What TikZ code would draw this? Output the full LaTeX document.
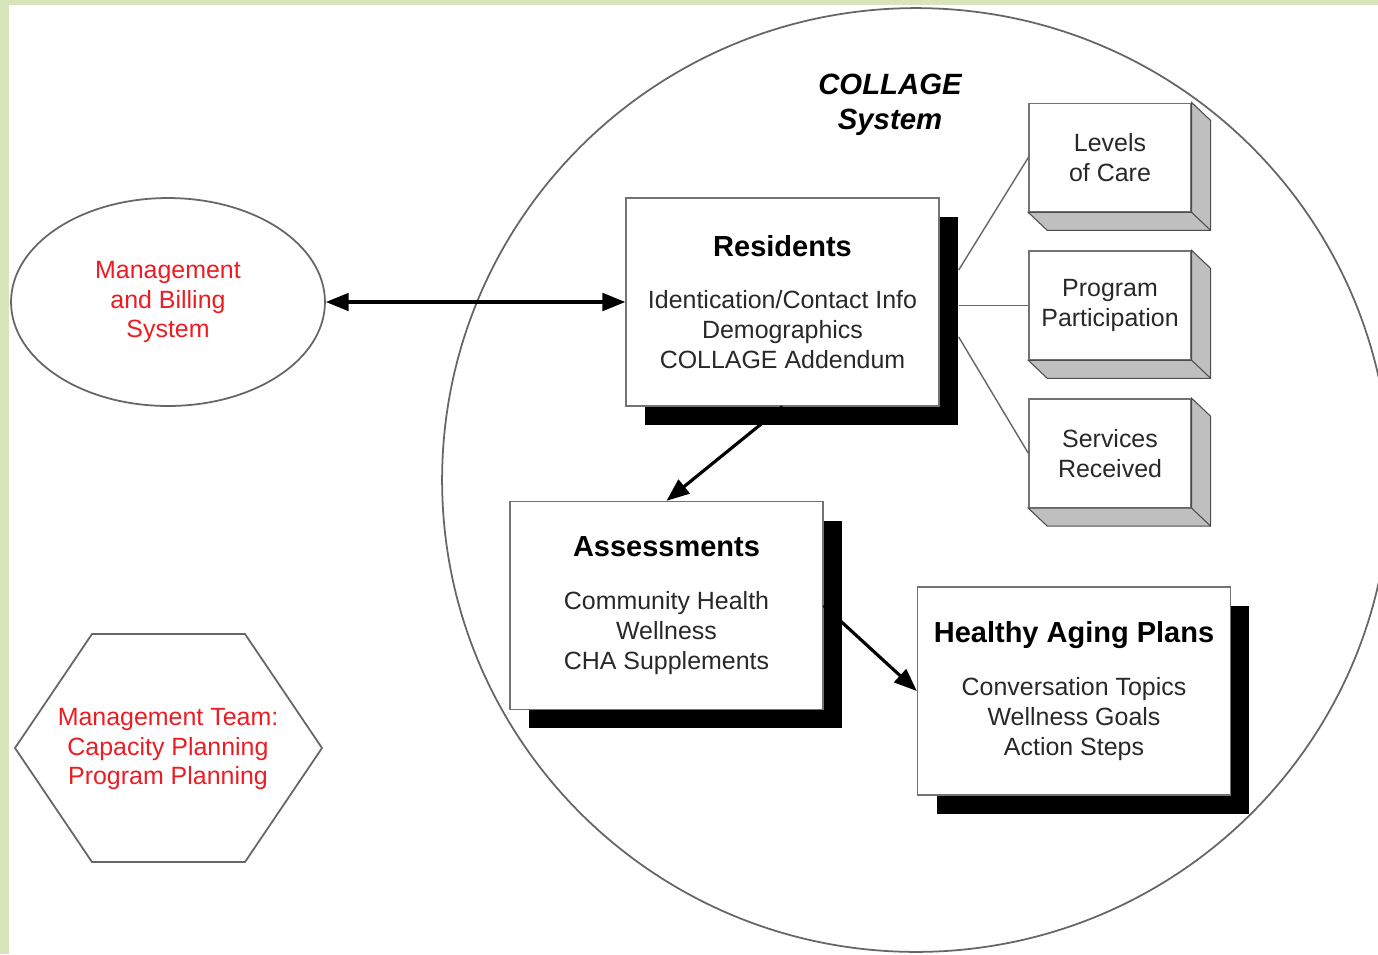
\documentclass[tikz,border=0pt]{standalone}
\usepackage{fontspec}
\setmainfont{Liberation Sans}
\usetikzlibrary{arrows.meta, positioning, shadows, shapes.geometric, calc}
\definecolor{framegreen}{RGB}{216,228,188}
\definecolor{mgmtred}{RGB}{236,28,36}
\definecolor{textgray}{RGB}{40,40,40}
\newcommand{\boxtitle}[1]{{\fontsize{16.5}{20}\selectfont\bfseries\color{black}#1}}

\begin{document}
\begin{tikzpicture}[
    x=0.02cm, y=-0.02cm,
    node distance=0.76cm,
    font=\fontsize{14.2}{17}\selectfont,
    mainbox/.style={draw=black!55, line width=0.8pt, fill=white, minimum width=6.26cm, minimum height=4.16cm, inner sep=0pt, align=center, text=textgray,
        drop shadow={shadow xshift=10.8pt, shadow yshift=-10.8pt, fill=black, opacity=1}},
    sidebox/.style={draw=black!55, line width=0.8pt, fill=white, minimum width=3.24cm, minimum height=2.17cm, inner sep=0pt, align=center, text=textgray},
    side/.style={draw=black!70, line width=0.6pt, fill=black!25},
    outline/.style={draw=black!60, line width=1pt},
    redtext/.style={align=center, text=mgmtred},
    link/.style={draw=black!60, line width=0.8pt},
    arrow/.style={-{Triangle[length=13pt, width=10pt]}, line width=1.8pt},
    dblarrow/.style={{Triangle[length=13pt, width=10pt]}-{Triangle[length=13pt, width=10pt]}, line width=1.8pt}
]

% Frame
\useasboundingbox (0,0) rectangle (1378,954);
\fill[white] (0,0) rectangle (1378,954);
\fill[framegreen] (0,0) rectangle (1378,5);
\fill[framegreen] (0,0) rectangle (9,954);

% COLLAGE system boundary
\draw[outline] (916,480) ellipse [x radius=9.48cm, y radius=9.44cm];
\node (title) [font=\fontsize{16.7}{19.8}\selectfont\bfseries\itshape, align=center] at (890,105) {COLLAGE\\System};

% Outside the system
\node (mbs) [ellipse, outline, minimum width=6.28cm, minimum height=4.16cm, inner sep=0pt, redtext] at (168,302) {Management\\and Billing\\System};
\node (team) [redtext] at (168,749) {Management Team:\\Capacity Planning\\Program Planning};
\draw[outline] ($(team)+(-153,-1)$) -- ($(team)+(-76,-115)$) -- ($(team)+(77,-115)$)
    -- ($(team)+(154,-1)$) -- ($(team)+(77,113)$) -- ($(team)+(-76,113)$) -- cycle;

% Main records
\node (res) [mainbox] at (782.5,302) {\boxtitle{Residents}\\[13pt]Identication/Contact Info\\Demographics\\COLLAGE Addendum};
\node (assess) [mainbox] at (666.5,605.5) {\boxtitle{Assessments}\\[13pt]Community Health\\Wellness\\CHA Supplements};
\node (hap) [mainbox] at (1074,691) {\boxtitle{Healthy Aging Plans}\\[13pt]Conversation Topics\\Wellness Goals\\Action Steps};

% Resident details
\node (care) [sidebox] at (1110,157.5) {Levels\\of Care};
\node (prog) [sidebox, below=of care] {Program\\Participation};
\node (serv) [sidebox, below=of prog] {Services\\Received};

\foreach \b in {care, prog, serv} {
    \filldraw[side] (\b.north east) -- ($(\b.north east)+(19,18)$) -- ($(\b.south east)+(19,18)$)
        -- ($(\b.south west)+(19,18)$) -- (\b.south west) -- (\b.south east) -- cycle;
    \draw[side] (\b.south east) -- ($(\b.south east)+(19,18)$);
}

\draw[link] ($(res.east)+(19,-32)$) -- (care.west);
\draw[link] ($(res.east |- prog.west)+(19,0)$) -- (prog.west);
\draw[link] ($(res.east)+(19,35)$) -- (serv.west);

% Arrows
\draw[dblarrow] (mbs.east) -- (res.west);
\draw[arrow] (res.south) -- (assess.north);
\draw[arrow] (assess.east) -- (hap.west);

\end{tikzpicture}
\end{document}
